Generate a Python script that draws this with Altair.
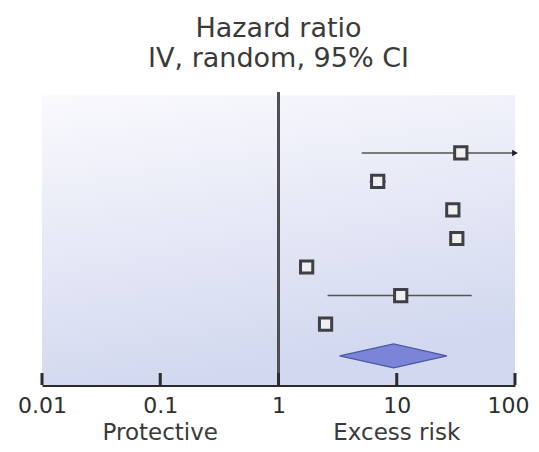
import altair as alt
import pandas as pd

# ---- data ----
rows = [1, 2, 3, 4, 5, 6, 7]
hr = [34.8, 6.9, 29.8, 32.2, 1.73, 10.8, 2.5]
ci_low = [5.05, 5.9, 26.0, 28.0, 1.5, 2.6, 2.2]
ci_high = [100, 8.1, 34.0, 37.0, 2.0, 43.0, 2.85]
arrow_rows = [1]
pooled_row = 8.12
pooled_low = 3.29
pooled_hr = 9.4
pooled_high = 26.5
pooled_half = 0.42
tick_values = [0.01, 0.1, 1, 10, 100]
side_labels = ["Protective", "Excess risk"]
side_pos = [0.1, 10]
title_lines = ["Hazard ratio", "IV, random, 95% CI"]

Y_TOP, Y_BOT = -1.14, 9.14
FONT = "DejaVu Sans"

studies = pd.DataFrame({"row": rows, "hr": hr, "lo": ci_low, "hi": ci_high})
arrows = studies[studies["row"].isin(arrow_rows)]
diamond = pd.DataFrame({
    "x": [pooled_low, pooled_hr, pooled_high],
    "y": [pooled_row, pooled_row - pooled_half, pooled_row],
    "y2": [pooled_row, pooled_row + pooled_half, pooled_row],
})
ticks = pd.DataFrame({"v": tick_values, "y": [Y_BOT] * 5, "y2": [Y_BOT - 0.42] * 5})
panel = pd.DataFrame({"x": [0.01], "x2": [100], "y": [-1.03], "y2": [Y_BOT]})
vline = pd.DataFrame({"x": [1], "y": [Y_TOP], "y2": [Y_BOT]})
sides = pd.DataFrame({"x": side_pos, "t": side_labels})

xscale = alt.Scale(type="log", domain=[0.01, 100], nice=False)
yscale = alt.Scale(domain=[Y_TOP, Y_BOT], nice=False, zero=False, reverse=True)
xaxis = alt.Axis(values=tick_values, labelExpr="datum.value + ''", ticks=False, grid=False,
                 domainColor="#2b2b2b", domainWidth=3, labelFont=FONT, labelFontSize=22,
                 labelColor="#2e2e2e", labelPadding=27, labelBaseline="alphabetic",
                 labelOffset={"condition": {"test": "datum.value == 100", "value": -7}, "value": 0},
                 labelFlush=False, labelOverlap=False, labelBound=False, title=None)


def X(f):
    return alt.X(f, type="quantitative", scale=xscale, axis=xaxis, title=None)


def Y(f):
    return alt.Y(f, type="quantitative", scale=yscale, axis=None)


grad = alt.Gradient(
    gradient="linear",
    stops=[alt.GradientStop(color="#fafafd", offset=0),
           alt.GradientStop(color="#e6e9f6", offset=0.5),
           alt.GradientStop(color="#d2d8ef", offset=1)],
    x1=0, y1=0, x2=0.25, y2=1,
)

bg = alt.Chart(panel).mark_rect(color=grad).encode(x=X("x"), x2="x2", y=Y("y"), y2="y2")
ref = alt.Chart(vline).mark_rule(color="#4f4f55", strokeWidth=3).encode(x=X("x"), y=Y("y"), y2="y2")
tk = alt.Chart(ticks).mark_rule(color="#2b2b2b", strokeWidth=3).encode(x=X("v"), y=Y("y"), y2="y2")
ci = alt.Chart(studies).mark_rule(color="#555555", strokeWidth=1.5).encode(x=X("lo"), x2="hi", y=Y("row"))
arr = alt.Chart(arrows).mark_point(shape="triangle-right", filled=True, color="#222222", size=45, opacity=1).encode(
    x=X("hi"), y=Y("row"))
sq = alt.Chart(studies).mark_square(size=150, fill="#f0f0f3", stroke="#3f3f45", strokeWidth=3, opacity=1).encode(
    x=X("hr"), y=Y("row"))
dia = alt.Chart(diamond).mark_area(color="#7b84d6", stroke="#4e56a4", strokeWidth=1.2, opacity=1).encode(
    x=X("x"), y=Y("y"), y2="y2")
side = alt.Chart(sides).mark_text(font=FONT, fontSize=23, color="#3a3a3a", baseline="alphabetic").encode(
    x=X("x"), y=alt.value(348), text="t:N")
t1 = alt.Chart(pd.DataFrame({"t": [title_lines[0]]})).mark_text(
    font=FONT, fontSize=27, color="#3a3a3a", baseline="alphabetic").encode(
    x=alt.value(236.5), y=alt.value(-55), text="t:N")
t2 = alt.Chart(pd.DataFrame({"t": [title_lines[1]]})).mark_text(
    font=FONT, fontSize=27, color="#3a3a3a", baseline="alphabetic").encode(
    x=alt.value(236.5), y=alt.value(-25), text="t:N")

chart = alt.layer(bg, ref, tk, ci, arr, sq, dia, side, t1, t2).properties(
    width=473, height=293,
    padding={"left": 34, "top": 84, "right": 16, "bottom": 61},
    autosize=alt.AutoSizeParams(type="none"),
    background="white",
).configure_view(stroke=None)

chart.save("out.html", embed_options={"renderer": "svg", "actions": False})
